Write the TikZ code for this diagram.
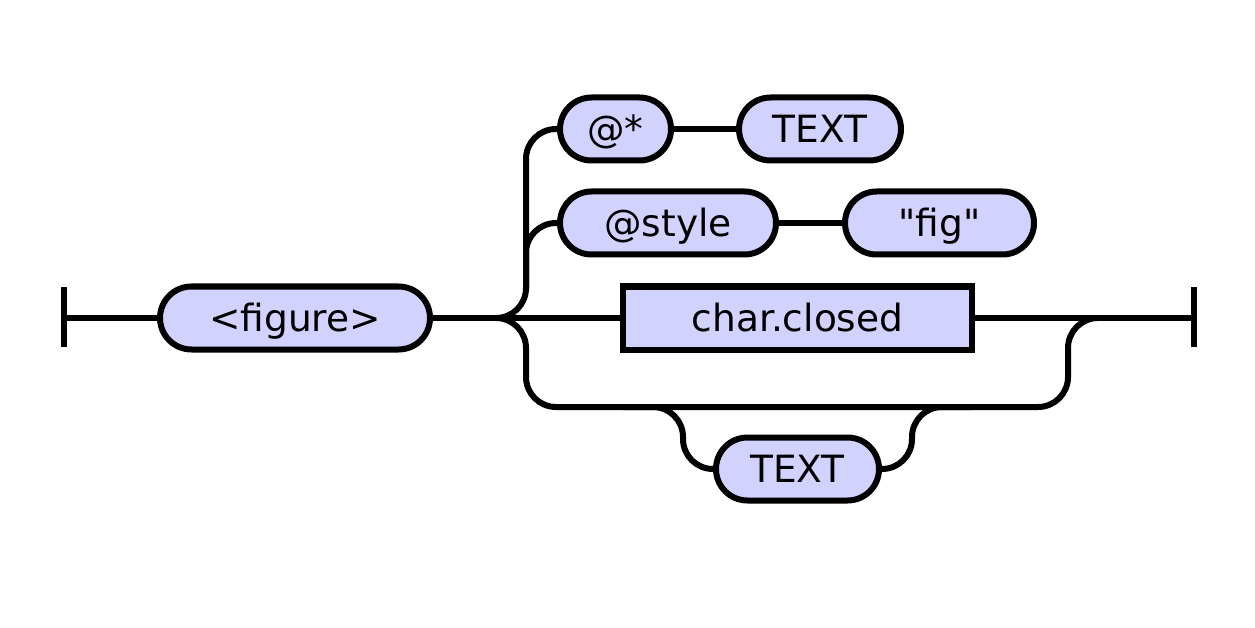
\documentclass[tikz,border=0pt]{standalone}
\usepackage{fontspec}
\setmainfont{DejaVu Sans}
\newcommand\straightdq{\XeTeXglyph\XeTeXcharglyph34\relax}
\definecolor{nodefill}{RGB}{210,210,255}
\begin{document}
\begin{tikzpicture}[x=1pt,y=-1pt,
  rail/.style={line width=6pt,draw=black},
  term/.style={draw=black,line width=6pt,fill=nodefill,minimum height=63pt,inner sep=0pt,
    rounded corners=31.5pt,text height=31pt,text depth=4pt,font=\fontsize{37.5}{44}\selectfont},
  nonterm/.style={draw=black,line width=6pt,fill=nodefill,minimum height=63pt,inner sep=0pt,
    text height=31pt,text depth=4pt,font=\fontsize{37.5}{44}\selectfont}]
\useasboundingbox (0,0) rectangle (1255,628);
% nodes
\node[term,minimum width=270pt] (figure) at (295,318) {<figure>};
\node[term,minimum width=111pt] (at) at (615.5,129) {@*};
\node[term,minimum width=162pt] (text1) at (820,129) {TEXT};
\node[term,minimum width=216pt] (style) at (668,223) {@style};
\node[term,minimum width=189pt] (fig) at (939.5,223) {\straightdq fig\straightdq};
\node[nonterm,minimum width=349pt] (char) at (797.5,318) {char.closed};
\node[term,minimum width=163pt] (text2) at (797.5,469) {TEXT};
% coordinates
\coordinate (s) at (64,318);
\coordinate (s1) at (64,287);
\coordinate (s2) at (64,347);
\coordinate (e) at (1194,318);
\coordinate (e1) at (1194,287);
\coordinate (e2) at (1194,347);
\coordinate (j) at (496,318);
\coordinate (k) at (1098,318);
% bars
\draw[rail] (s1) -- (s2);
\draw[rail] (e1) -- (e2);
% main line
\draw[rail] (s) -- (figure.west);
\draw[rail] (figure.east) -- (j) -- (char.west);
\draw[rail] (char.east) -- (e);
% upper branches
\draw[rail,rounded corners=30pt] (j) -- (526,318) -- (526,129) -- (at.west);
\draw[rail,rounded corners=30pt] (526,290) -- (526,223) -- (style.west);
\draw[rail] (at.east) -- (text1.west);
\draw[rail] (style.east) -- (fig.west);
% lower branch
\draw[rail,rounded corners=30pt] (j) -- (526,318) -- (526,407) -- (1068,407) -- (1068,318) -- (k);
\draw[rail,rounded corners=30pt] (623,407) -- (683,407) -- (683,469) -- (text2.west);
\draw[rail,rounded corners=30pt] (text2.east) -- (912,469) -- (912,407) -- (972,407);
\end{tikzpicture}
\end{document}
